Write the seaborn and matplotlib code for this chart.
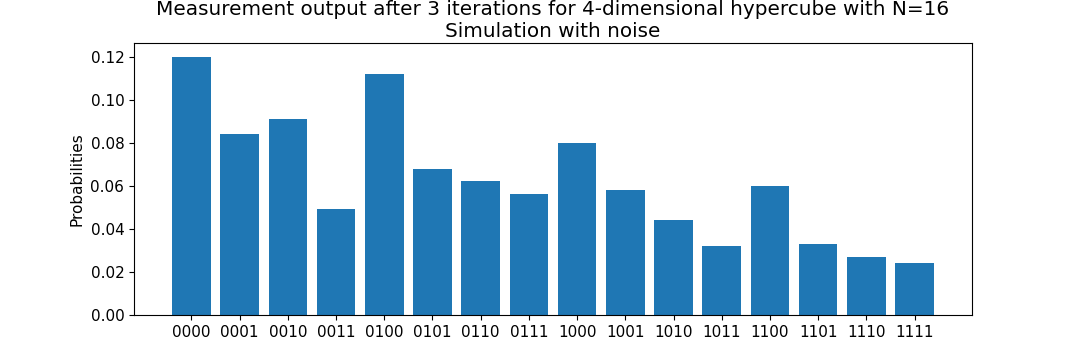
import matplotlib
matplotlib.use("Agg")
import matplotlib.pyplot as plt
import seaborn as sns
import pandas as pd

states = ["0000", "0001", "0010", "0011", "0100", "0101", "0110", "0111",
          "1000", "1001", "1010", "1011", "1100", "1101", "1110", "1111"]
probabilities = [0.120, 0.084, 0.091, 0.049, 0.112, 0.068, 0.062, 0.056,
                 0.080, 0.058, 0.044, 0.032, 0.060, 0.033, 0.027, 0.024]

df = pd.DataFrame({"state": states, "prob": probabilities})

fig = plt.figure(figsize=(10.8, 3.6), dpi=100)
ax = fig.add_axes([134/1080, 1-315/360, (972-134)/1080, (315-43)/360])
sns.barplot(data=df, x="state", y="prob", color="#1f77b4", saturation=1,
            width=0.8, ax=ax, order=states)
ax.set_xlim(-1.19, 16.19)
ax.set_ylim(0, 0.1263)
ax.set_yticks([0.00, 0.02, 0.04, 0.06, 0.08, 0.10, 0.12])
ax.set_yticklabels(["0.00", "0.02", "0.04", "0.06", "0.08", "0.10", "0.12"])
ax.tick_params(labelsize=11)
ax.set_xlabel("")
ax.set_ylabel("Probabilities", fontsize=11)
ax.set_title("Measurement output after 3 iterations for 4-dimensional hypercube with N=16\nSimulation with noise",
             fontsize=14.4, pad=4)
fig.savefig("out.png", dpi=100)
